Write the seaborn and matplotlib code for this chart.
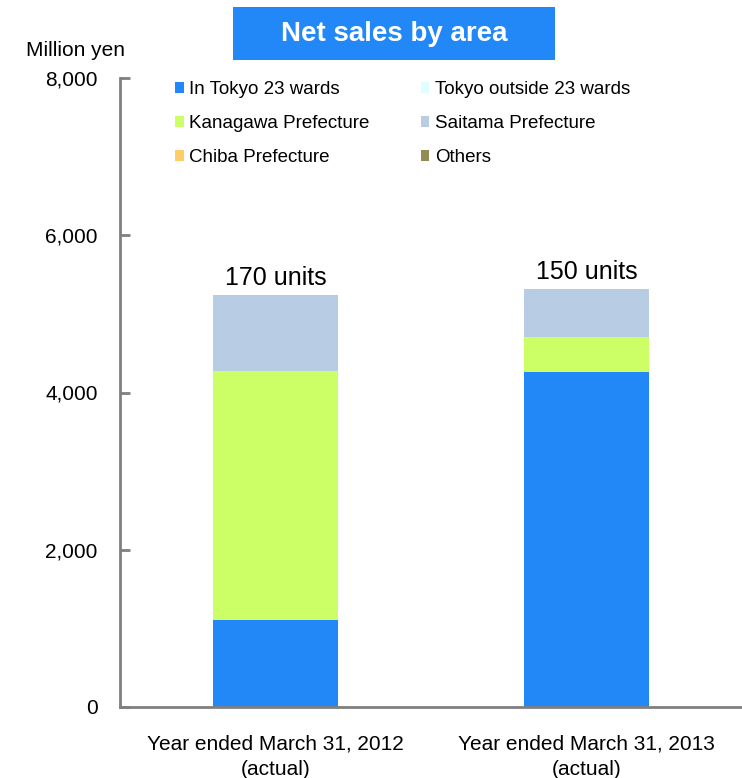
import matplotlib
matplotlib.use("Agg")
import matplotlib.pyplot as plt
import seaborn as sns
import numpy as np
from matplotlib.patches import Patch, FancyBboxPatch

sns.set_theme(style="white")
plt.rcParams['font.family'] = ['Liberation Sans', 'DejaVu Sans']

categories = ["Year ended March 31, 2012\n(actual)", "Year ended March 31, 2013\n(actual)"]
series_names = ["In Tokyo 23 wards", "Tokyo outside 23 wards", "Kanagawa Prefecture",
                "Saitama Prefecture", "Chiba Prefecture", "Others"]
tokyo23 = [1106, 4258]
tokyo_outside = [0, 0]
kanagawa = [3165, 445]
saitama = [966, 610]
chiba = [0, 0]
others = [0, 0]
unit_labels = ["170 units", "150 units"]
yticks = [0, 2000, 4000, 6000, 8000]
series_values = [tokyo23, tokyo_outside, kanagawa, saitama, chiba, others]
colors = ["#2288F8", "#DDFFFF", "#CCFF66", "#B8CCE4", "#FFCC66", "#948A54"]

fig = plt.figure(figsize=(7.42, 7.78), dpi=100)
ax = fig.add_axes([120/742, 1-707/778, 1-120/742, (707-78)/778])

bottom = np.zeros(len(categories))
for name, vals, col in zip(series_names, series_values, colors):
    sns.barplot(x=categories, y=vals, bottom=bottom, color=col, width=0.4,
                saturation=1, linewidth=0, ax=ax, label=name)
    bottom = bottom + np.array(vals)

for i, lab in enumerate(unit_labels):
    ax.text(i, bottom[i] + 70, lab, ha="center", va="bottom", fontsize=18, color="black")

ax.set_ylim(0, 8000)
ax.set_xlim(-0.5, 1.5)
ax.set_yticks(yticks)
ax.set_yticklabels([f"{v:,}" for v in yticks], fontsize=15, color="black")
ax.tick_params(axis="y", left=True, direction="in", length=7, width=2, color="#808080", pad=16)
ax.tick_params(axis="x", bottom=False, length=0, pad=20)
for t in ax.get_xticklabels():
    t.set_fontsize(15)
    t.set_color("black")
    t.set_linespacing(1.4)
for s in ["top", "right"]:
    ax.spines[s].set_visible(False)
for s in ["left", "bottom"]:
    ax.spines[s].set_color("#808080")
    ax.spines[s].set_linewidth(2)
ax.set_xlabel("")
ax.set_ylabel("")
leg = ax.get_legend()
if leg:
    leg.remove()

# legend
order = [0, 2, 4, 1, 3, 5]
handles = [Patch(facecolor=colors[k], edgecolor="none") for k in order]
labels = [series_names[k] for k in order]
lg = fig.legend(handles, labels, ncol=2, loc="upper left", bbox_to_anchor=(166/742, 1-72/778),
                frameon=False, fontsize=13.5, handlelength=0.45, handleheight=0.5,
                handletextpad=0.3, columnspacing=2.72, labelspacing=0.9, borderpad=0)
for t in lg.get_texts():
    t.set_color("black")

# title box
box = FancyBboxPatch((233/742, 1-60/778), (555-233)/742, 53/778,
                     boxstyle="square,pad=0", transform=fig.transFigure,
                     facecolor="#2288F8", edgecolor="none")
fig.patches.append(box)
fig.text(394/742, 1-34/778, "Net sales by area", ha="center", va="center",
         fontsize=20, fontweight="bold", color="white")
fig.text(75/742, 1-51/778, "Million yen", ha="center", va="center", fontsize=15, color="black")

fig.savefig("out.png", dpi=100)
